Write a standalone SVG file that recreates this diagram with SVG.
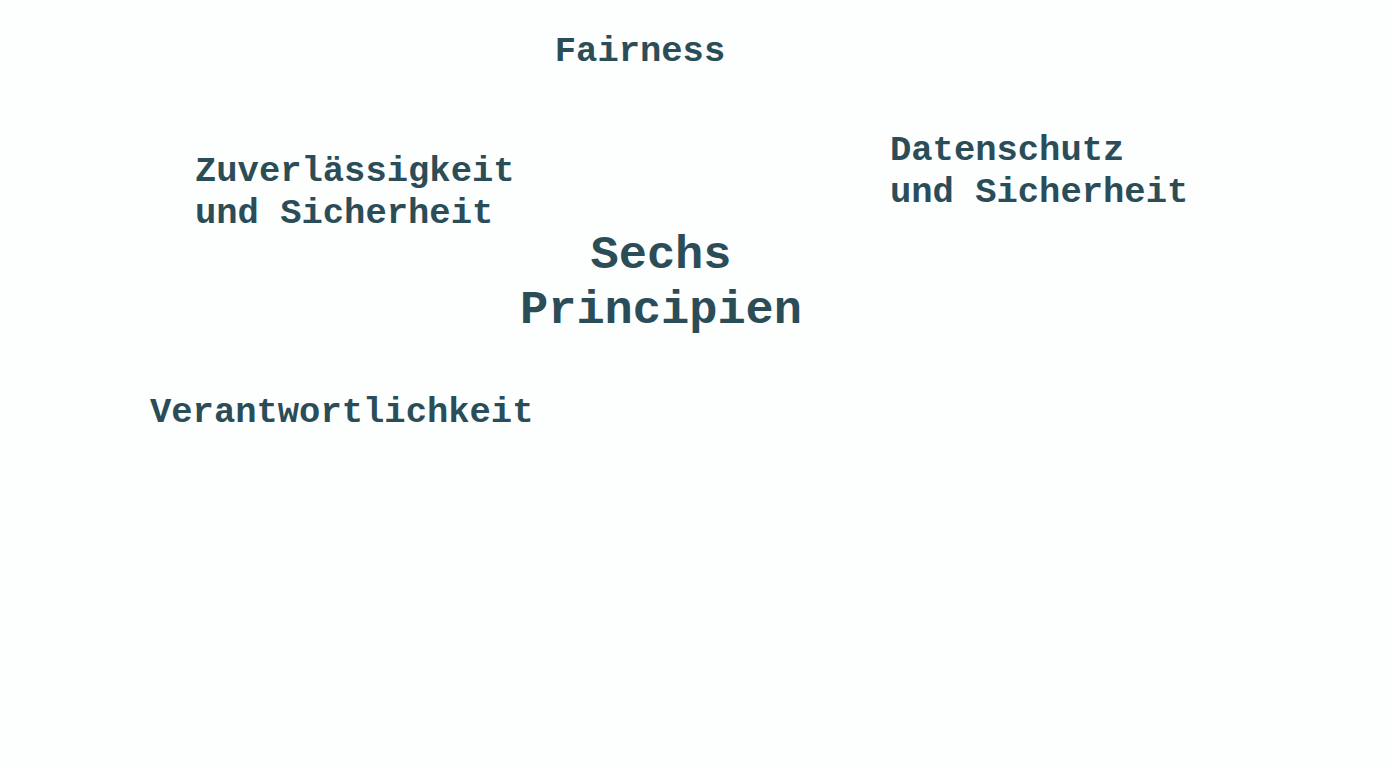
<svg xmlns="http://www.w3.org/2000/svg" width="1392" height="768" viewBox="0 0 1392 768">
<style>
.t{font-family:"Liberation Mono","Courier New",monospace;font-weight:bold;fill:#2b4d58;font-size:35.5px}
.c{font-size:47px;text-anchor:middle}
</style>
<rect width="1392" height="768" fill="#fdfefe"/>
<g id="center"><text class="t c" x="661" y="268">Sechs</text><text class="t c" x="661" y="323">Principien</text></g>
<g id="fairness"><text class="t" x="640" y="61" text-anchor="middle">Fairness</text></g>
<g id="zuverlaessigkeit"><text class="t" x="195" y="181">Zuverlässigkeit</text><text class="t" x="195" y="223">und Sicherheit</text></g>
<g id="datenschutz"><text class="t" x="890" y="160">Datenschutz</text><text class="t" x="890" y="202">und Sicherheit</text></g>
<g id="verantwortlichkeit"><text class="t" x="150" y="422">Verantwortlichkeit</text></g>
<g id="connectors"/>
</svg>
